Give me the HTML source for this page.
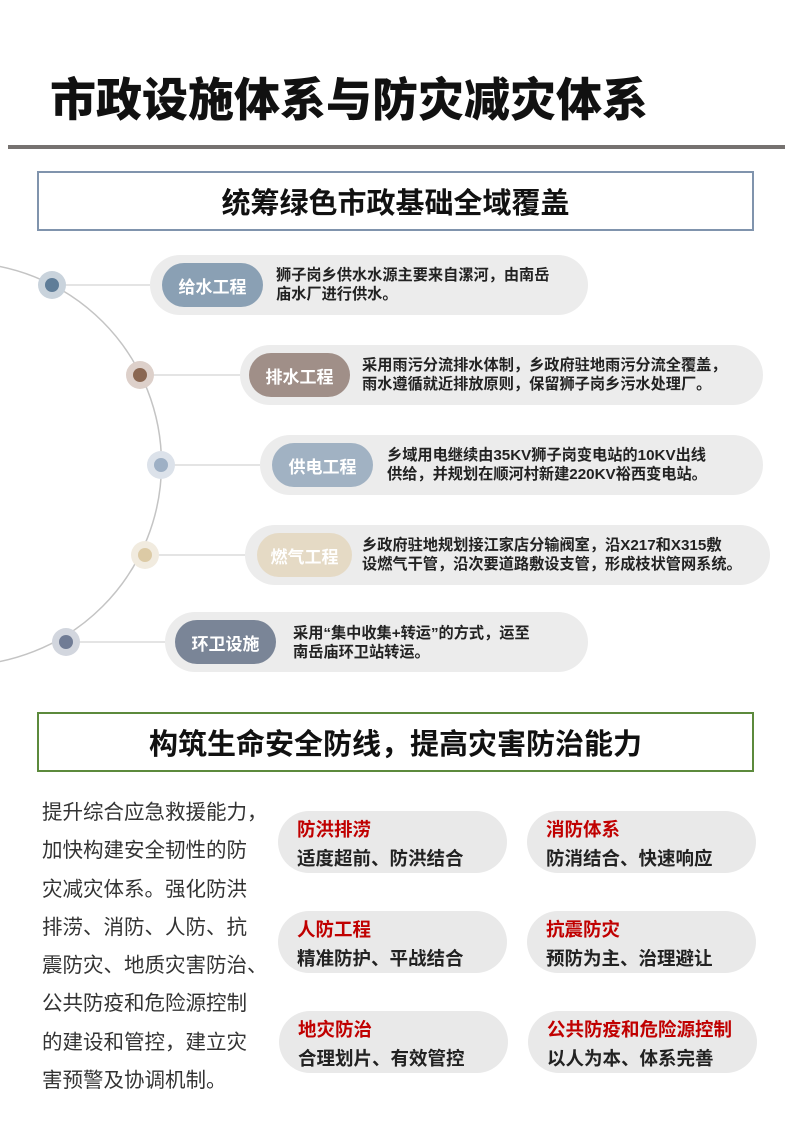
<!DOCTYPE html>
<html><head><meta charset="utf-8"><style>
*{margin:0;padding:0;box-sizing:border-box}
body{width:793px;height:1122px;background:#fff;position:relative;overflow:hidden;font-family:"Liberation Sans","Noto Sans CJK SC",sans-serif;color:#111}
.a{position:absolute;white-space:nowrap}
.title{left:50px;top:72px;font-size:46px;font-weight:900;line-height:56px}
.rule{left:8px;top:145px;width:777px;height:4px;background:#767270}
.box{border:2px solid #8094ad;display:flex;align-items:center;justify-content:center;font-size:29px;font-weight:700}
.op{background:#ececec;border-radius:30px;height:60px}
.ip{border-radius:22px;height:44px;color:#fff;font-size:17px;font-weight:700;display:flex;align-items:center;justify-content:center}
.tx{font-size:15.2px;font-weight:700;line-height:19px;color:#222}
.card{background:#e9e9e9;border-radius:31px;width:229px;height:62px}
.ct{font-size:18.5px;font-weight:700;color:#c00000;line-height:22px}
.cs{font-size:18.5px;font-weight:700;color:#222;line-height:22px}
.para{left:42px;top:794px;font-size:20.5px;line-height:38.3px;color:#333}
</style></head><body>
<div class="a title">市政设施体系与防灾减灾体系</div>
<div class="a rule"></div>
<div class="a box" style="left:37px;top:171px;width:717px;height:60px">统筹绿色市政基础全域覆盖</div>

<svg class="a" style="left:0;top:0" width="793" height="700">
<circle cx="-40" cy="464" r="201.5" fill="none" stroke="#c4c4c4" stroke-width="1.5"/>
<g stroke="#dcdcdc" stroke-width="1.5">
<line x1="52" y1="285" x2="162" y2="285"/>
<line x1="140" y1="375" x2="250" y2="375"/>
<line x1="161" y1="465" x2="272" y2="465"/>
<line x1="145" y1="555" x2="257" y2="555"/>
<line x1="66" y1="642" x2="175" y2="642"/>
</g>
<circle cx="52" cy="285" r="14" fill="#c9d3dc"/><circle cx="52" cy="285" r="7" fill="#5f7d98"/>
<circle cx="140" cy="375" r="14" fill="#ddd0ca"/><circle cx="140" cy="375" r="7" fill="#8a6752"/>
<circle cx="161" cy="465" r="14" fill="#dce2ea"/><circle cx="161" cy="465" r="7" fill="#9eb0c5"/>
<circle cx="145" cy="555" r="14" fill="#f1ebdf"/><circle cx="145" cy="555" r="7" fill="#dccaa5"/>
<circle cx="66" cy="642" r="14" fill="#d2d6de"/><circle cx="66" cy="642" r="7" fill="#707c95"/>
</svg>

<div class="a op" style="left:150px;top:255px;width:438px"></div>
<div class="a ip" style="left:162px;top:263px;width:101px;background:#8aa0b4">给水工程</div>
<div class="a tx" style="left:276px;top:266px">狮子岗乡供水水源主要来自漯河，由南岳<br>庙水厂进行供水。</div>

<div class="a op" style="left:240px;top:345px;width:523px"></div>
<div class="a ip" style="left:249px;top:353px;width:101px;background:#a08f88">排水工程</div>
<div class="a tx" style="left:362px;top:356px">采用雨污分流排水体制，乡政府驻地雨污分流全覆盖，<br>雨水遵循就近排放原则，保留狮子岗乡污水处理厂。</div>

<div class="a op" style="left:260px;top:435px;width:503px"></div>
<div class="a ip" style="left:272px;top:443px;width:101px;background:#a1b2c3">供电工程</div>
<div class="a tx" style="left:387px;top:446px">乡域用电继续由35KV狮子岗变电站的10KV出线<br>供给，并规划在顺河村新建220KV裕西变电站。</div>

<div class="a op" style="left:245px;top:525px;width:525px"></div>
<div class="a ip" style="left:257px;top:533px;width:95px;background:#e5dac5">燃气工程</div>
<div class="a tx" style="left:362px;top:536px">乡政府驻地规划接江家店分输阀室，沿X217和X315敷<br>设燃气干管，沿次要道路敷设支管，形成枝状管网系统。</div>

<div class="a op" style="left:165px;top:612px;width:423px"></div>
<div class="a ip" style="left:175px;top:620px;width:101px;background:#7a8597">环卫设施</div>
<div class="a tx" style="left:293px;top:624px">采用“集中收集+转运”的方式，运至<br>南岳庙环卫站转运。</div>

<div class="a box" style="left:37px;top:712px;width:717px;height:60px;border-color:#5c8a3c">构筑生命安全防线，提高灾害防治能力</div>

<div class="a para">提升综合应急救援能力，<br>加快构建安全韧性的防<br>灾减灾体系。强化防洪<br>排涝、消防、人防、抗<br>震防灾、地质灾害防治、<br>公共防疫和危险源控制<br>的建设和管控，建立灾<br>害预警及协调机制。</div>

<div class="a card" style="left:278px;top:811px"></div>
<div class="a ct" style="left:297px;top:819px">防洪排涝</div>
<div class="a cs" style="left:297px;top:848px">适度超前、防洪结合</div>
<div class="a card" style="left:527px;top:811px"></div>
<div class="a ct" style="left:546px;top:819px">消防体系</div>
<div class="a cs" style="left:546px;top:848px">防消结合、快速响应</div>

<div class="a card" style="left:278px;top:911px"></div>
<div class="a ct" style="left:297px;top:919px">人防工程</div>
<div class="a cs" style="left:297px;top:948px">精准防护、平战结合</div>
<div class="a card" style="left:527px;top:911px"></div>
<div class="a ct" style="left:546px;top:919px">抗震防灾</div>
<div class="a cs" style="left:546px;top:948px">预防为主、治理避让</div>

<div class="a card" style="left:279px;top:1011px"></div>
<div class="a ct" style="left:298px;top:1019px">地灾防治</div>
<div class="a cs" style="left:298px;top:1048px">合理划片、有效管控</div>
<div class="a card" style="left:528px;top:1011px"></div>
<div class="a ct" style="left:547px;top:1019px">公共防疫和危险源控制</div>
<div class="a cs" style="left:547px;top:1048px">以人为本、体系完善</div>
</body></html>
